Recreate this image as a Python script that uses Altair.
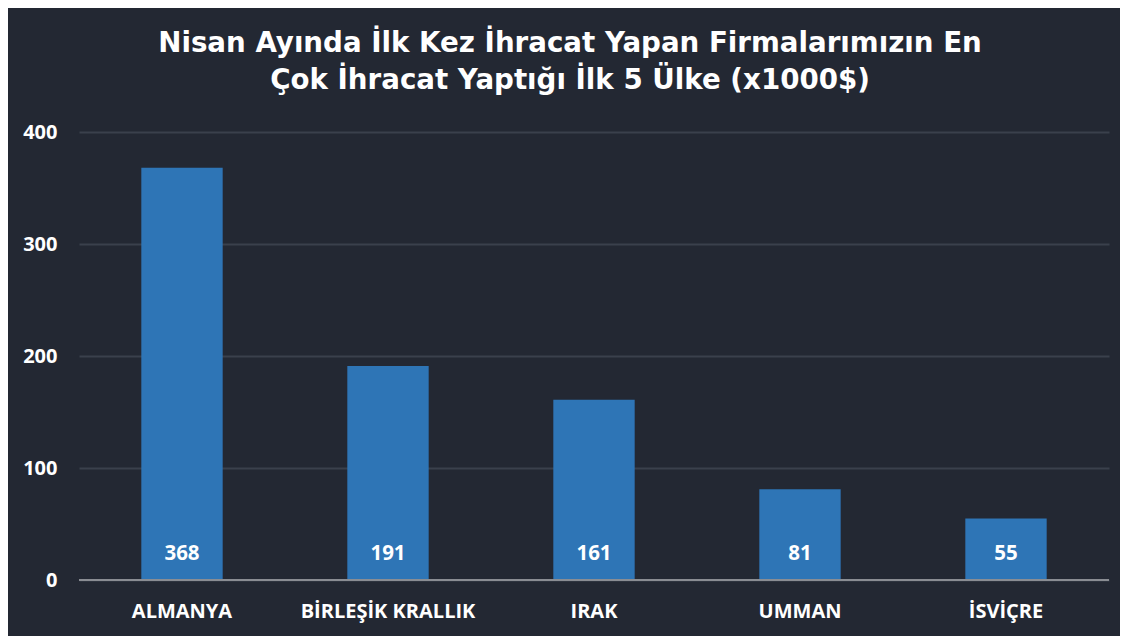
import altair as alt
import pandas as pd

countries = ["ALMANYA", "BİRLEŞİK KRALLIK", "IRAK", "UMMAN", "İSVİÇRE"]
values = [368, 191, 161, 81, 55]
y_ticks = [0, 100, 200, 300, 400]
title_lines = ["Nisan Ayında İlk Kez İhracat Yapan Firmalarımızın En",
               "Çok İhracat Yaptığı İlk 5 Ülke (x1000$)"]

df = pd.DataFrame({"country": countries, "value": values})

BG = "#232833"
BAR = "#2e75b6"
FONT = "Open Sans"

x = alt.X("country:N", sort=countries, title=None,
          scale=alt.Scale(paddingInner=0.605, paddingOuter=0.3025),
          axis=alt.Axis(labelAngle=0, labelColor="white", labelFont=FONT,
                        labelFontSize=20, labelFontWeight="bold",
                        labelPadding=21, ticks=False, domain=False))

y = alt.Y("value:Q", title=None,
          scale=alt.Scale(domain=[0, 400], nice=False),
          axis=alt.Axis(values=y_ticks, labelColor="white", labelFont=FONT,
                        labelFontSize=20, labelFontWeight="bold",
                        labelPadding=22, ticks=False, domain=False,
                        gridColor="#3a404c", gridWidth=2))

bars = alt.Chart(df).mark_bar(color=BAR).encode(x=x, y=y)

labels = alt.Chart(df).mark_text(
    color="white", font=FONT, fontSize=20.5, fontWeight="bold",
    baseline="middle", dy=-26
).encode(x=alt.X("country:N", sort=countries), y=alt.datum(0), text="value:Q")

baseline = alt.Chart(df).mark_rule(color="#8a8d93", strokeWidth=2).encode(
    y=alt.datum(0))

chart = alt.layer(bars, baseline, labels).properties(
    width=1030, height=448,
    padding={"left": 71, "top": 124, "right": 11, "bottom": 56},
    autosize=alt.AutoSizeParams(type="none"),
    background=BG,
    title=alt.TitleParams(
        text=title_lines, color="white", font="DejaVu Sans", fontSize=27.7,
        fontWeight="bold", lineHeight=37, anchor="middle", frame="group",
        offset=27, dx=-24),
).configure_view(stroke=None)

chart.save("out.html", embed_options={"renderer": "svg", "actions": False})
